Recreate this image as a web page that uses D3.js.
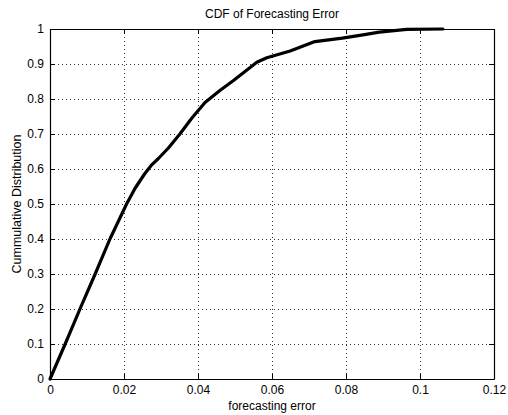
<!DOCTYPE html>
<html>
<head>
<meta charset="utf-8">
<script src="https://cdn.jsdelivr.net/npm/d3@7/dist/d3.min.js"></script>
<style>
  html, body { margin: 0; padding: 0; background: #fff; }
  svg { display: block; font-family: "Liberation Sans", Arial, Helvetica, sans-serif; }
</style>
</head>
<body>
<svg id="chart" width="508" height="415"></svg>
<script>
// Empirical CDF of the forecasting error
const errorValues = [0, 0.0041, 0.0081, 0.0122, 0.0162, 0.0207, 0.023, 0.0255, 0.0275, 0.0293, 0.032, 0.0351, 0.0383, 0.0419, 0.046, 0.0495, 0.0559, 0.0586, 0.0649, 0.0716, 0.079, 0.085, 0.089, 0.0964, 0.1062];
const cdfValues   = [0, 0.1, 0.2, 0.3, 0.4, 0.5, 0.545, 0.585, 0.612, 0.63, 0.66, 0.7, 0.745, 0.79, 0.825, 0.852, 0.905, 0.918, 0.937, 0.964, 0.974, 0.984, 0.991, 0.999, 1.0];

const xTicks = [0, 0.02, 0.04, 0.06, 0.08, 0.1, 0.12];
const yTicks = [0, 0.1, 0.2, 0.3, 0.4, 0.5, 0.6, 0.7, 0.8, 0.9, 1];

const titleText = "CDF of Forecasting Error";
const xLabelText = "forecasting error";
const yLabelText = "Cummulative Distribution";

const margin = { left: 50, right: 14, top: 29, bottom: 36 };
const width = 508, height = 415;
const svg = d3.select("#chart");

const x = d3.scaleLinear().domain([0, 0.12]).range([margin.left, width - margin.right]);
const y = d3.scaleLinear().domain([0, 1]).range([height - margin.bottom, margin.top]);

const fmt = d => String(+d.toFixed(2));

// dotted grid
const grid = svg.append("g").attr("stroke", "#333").attr("stroke-width", 1).attr("stroke-dasharray", "1,3");
grid.selectAll("line.gx").data(xTicks.slice(1, -1)).join("line")
  .attr("x1", d => Math.round(x(d)) + 0.5).attr("x2", d => Math.round(x(d)) + 0.5)
  .attr("y1", y(1)).attr("y2", y(0));
grid.selectAll("line.gy").data(yTicks.slice(1, -1)).join("line")
  .attr("y1", d => Math.round(y(d)) + 0.5).attr("y2", d => Math.round(y(d)) + 0.5)
  .attr("x1", x(0)).attr("x2", x(0.12));

// axes with inward ticks on all four sides
const tickLen = 5;
const axB = svg.append("g").attr("transform", `translate(0,${y(0)})`)
  .call(d3.axisBottom(x).tickValues(xTicks).tickFormat(fmt).tickSizeInner(-tickLen).tickSizeOuter(0).tickPadding(6));
const axT = svg.append("g").attr("transform", `translate(0,${y(1)})`)
  .call(d3.axisTop(x).tickValues(xTicks).tickFormat("").tickSizeInner(-tickLen).tickSizeOuter(0));
const axL = svg.append("g").attr("transform", `translate(${x(0)},0)`)
  .call(d3.axisLeft(y).tickValues(yTicks).tickFormat(fmt).tickSizeInner(-tickLen).tickSizeOuter(0).tickPadding(6));
const axR = svg.append("g").attr("transform", `translate(${x(0.12)},0)`)
  .call(d3.axisRight(y).tickValues(yTicks).tickFormat("").tickSizeInner(-tickLen).tickSizeOuter(0));

[axB, axT, axL, axR].forEach(a => {
  a.select(".domain").attr("stroke", "#000").attr("stroke-width", 1.2);
  a.selectAll(".tick line").attr("stroke", "#000");
  a.selectAll("text").attr("fill", "#000").style("font-size", "12px")
    .style("font-family", '"Liberation Sans", Arial, sans-serif');
});

// curve
const line = d3.line().x((d, i) => x(errorValues[i])).y(d => y(d));
svg.append("path").datum(cdfValues)
  .attr("d", line).attr("fill", "none").attr("stroke", "#000")
  .attr("stroke-width", 3.2).attr("stroke-linejoin", "round").attr("stroke-linecap", "round");

// titles
svg.append("text").attr("x", (x(0) + x(0.12)) / 2).attr("y", 18)
  .attr("text-anchor", "middle").style("font-size", "12px").text(titleText);
svg.append("text").attr("x", (x(0) + x(0.12)) / 2).attr("y", 410)
  .attr("text-anchor", "middle").style("font-size", "12px").text(xLabelText);
svg.append("text").attr("transform", `translate(21,${(y(0) + y(1)) / 2}) rotate(-90)`)
  .attr("text-anchor", "middle").style("font-size", "12.5px").text(yLabelText);
</script>
</body>
</html>
